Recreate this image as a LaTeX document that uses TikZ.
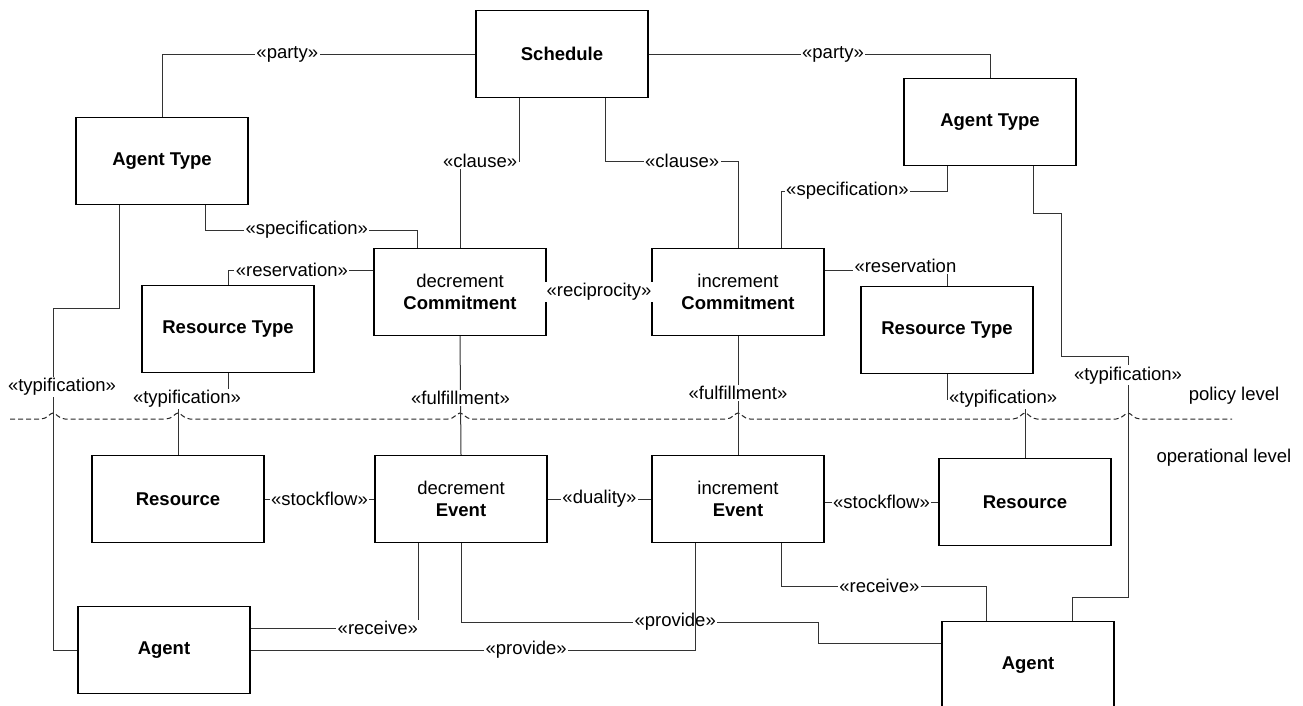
\documentclass[tikz,border=0pt]{standalone}
\usepackage{fontspec}
\setmainfont{Liberation Sans}

\begin{document}
\begin{tikzpicture}[
    x=1pt, y=-1pt,
    every node/.style={font=\fontsize{18.5}{22}\selectfont},
    cls/.style={draw, line width=1.4pt, minimum width=172pt, minimum height=87pt, align=center, fill=white},
    rel/.style={draw=black!80, line width=1pt},
    lbl/.style={fill=white, inner sep=1.5pt}, % Beschriftung der Beziehungen
    lvl/.style={dash pattern=on 5pt off 3pt, draw=black!85, line width=1pt}
]
\useasboundingbox (0,0) rectangle (1303,705);

% policy level
\node[cls] (sched) at (562,54) {\textbf{Schedule}};
\node[cls] (atl) at (162,161) {\textbf{Agent Type}};
\node[cls] (atr) at (990,122) {\textbf{Agent Type}};
\node[cls] (dcm) at (460,292) {decrement\\\textbf{Commitment}};
\node[cls] (icm) at (738,292) {increment\\\textbf{Commitment}};
\node[cls] (rtl) at (228,329) {\textbf{Resource Type}};
\node[cls] (rtr) at (947,330) {\textbf{Resource Type}};

% operational level
\node[cls] (resl) at (178,499) {\textbf{Resource}};
\node[cls] (dev) at (461,499) {decrement\\\textbf{Event}};
\node[cls] (iev) at (738,499) {increment\\\textbf{Event}};
\node[cls] (resr) at (1025,502) {\textbf{Resource}};
\node[cls] (agl) at (164,650) {\textbf{Agent}};
\node[cls] (agr) at (1028,665) {\textbf{Agent}};

\node (pol) at (1234,396) {policy level};
\node (opl) at (1224,458) {operational level};

\draw[lvl] (10,419) foreach \h in {53,178,460,738,1025,1128} {
    -- (\h-12,419) .. controls (\h-6,419) and (\h-3,413) .. (\h,413)
    .. controls (\h+3,413) and (\h+6,419) .. (\h+12,419) } -- (1232,419);

\draw[rel] (sched.west) -| node[lbl,pos=0.3] {«party»} (atl.north);
\draw[rel] (sched.east) -| node[lbl,pos=0.27] {«party»} (atr.north);
\draw[rel] ([xshift=-43pt]sched.south) -- ++(0,63) -| node[lbl,pos=0.33] {«clause»} (dcm.north);
\draw[rel] ([xshift=43pt]sched.south) -- ++(0,63) -| node[lbl,pos=0.29] {«clause»} (icm.north);
\draw[rel] ([xshift=43pt]atl.south) -- ++(0,25) -| node[lbl,pos=0.24] {«specification»} ([xshift=-43pt]dcm.north);
\draw[rel] ([xshift=-43pt]atr.south) -- ++(0,25) -| node[lbl,pos=0.3] {«specification»} ([xshift=43pt]icm.north);
\draw[rel] ([xshift=-43pt]atl.south) |- (53,308)
    -- node[lbl,pos=0.23,xshift=9pt] {«typification»} (53,650) -- (agl.west);
\draw[rel] ([xshift=43pt]atr.south) -- ++(0,47) -| (1061,356)
    -| node[lbl,pos=0.54] {«typification»} (1128,597) -| ([xshift=44pt]agr.north);
\draw[rel] ([yshift=22pt]dcm.west) -| node[lbl,pos=0.28] {«reservation»} (rtl.north);
\draw[rel] ([yshift=22pt]icm.east) -| node[lbl,pos=0.33,yshift=4pt] {«reservation} (rtr.north);
\draw[rel] (dcm.east) -- node[lbl] {«reciprocity»} (icm.west);
\draw[rel] (dcm.south) -- node[lbl,pos=0.52] {«fulfillment»} (dev.north);
\draw[rel] (icm.south) -- node[lbl,pos=0.48] {«fulfillment»} (iev.north);
\draw[rel] (rtl.south) -- ++(0,26) -| node[lbl,pos=0.41] {«typification»} (resl.north);
\draw[rel] (rtr.south) -- ++(0,25) -| node[lbl,pos=0.36] {«typification»} (resr.north);
\draw[rel] (resl.east) -- node[lbl] {«stockflow»} (dev.west);
\draw[rel] (dev.east) -- node[lbl] {«duality»} (iev.west);
\draw[rel] (iev.east |- resr.west) -- node[lbl] {«stockflow»} (resr.west);
\draw[rel] ([xshift=-43pt]dev.south) |- node[lbl,pos=0.62] {«receive»} ([yshift=22pt]agl.east);
\draw[rel] (dev.south) |- node[lbl,pos=0.8] {«provide»} (818,622) |- ([yshift=22pt]agr.west);
\draw[rel] ([xshift=-43pt]iev.south) |- node[lbl,pos=0.69] {«provide»} (agl.east);
\draw[rel] ([xshift=43pt]iev.south) -- ++(0,43) -| node[lbl,pos=0.24] {«receive»} ([xshift=-42pt]agr.north);

\end{tikzpicture}
\end{document}
